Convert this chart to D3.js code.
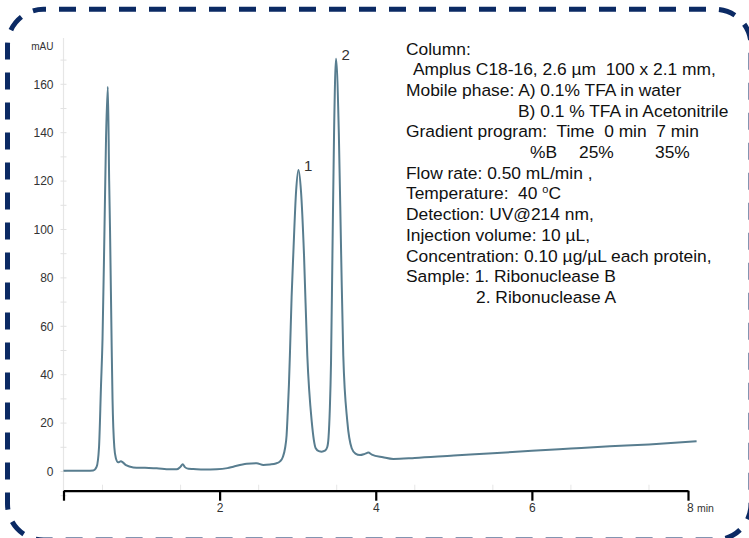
<!DOCTYPE html>
<html><head><meta charset="utf-8">
<script src="https://cdn.jsdelivr.net/npm/d3@7"></script>
<style>
html,body{margin:0;padding:0;background:#fff;}
svg{display:block;}
text{font-family:"Liberation Sans",Arial,sans-serif;}
</style></head>
<body><svg id="chart" width="749" height="538"></svg>
<script>
// ---- data ----
const times = [0.00,0.30,0.38,0.425,0.455,0.480,0.500,0.525,0.545,0.568,0.585,0.596,0.617,0.628,0.651,0.670,0.700,0.735,0.760,0.800,0.894,1.044,1.194,1.364,1.450,1.500,1.527,1.555,1.600,1.663,1.800,1.963,2.100,2.175,2.347,2.475,2.560,2.645,2.720,2.774,2.810,2.838,2.858,2.872,2.888,2.902,2.922,2.944,2.980,3.010,3.042,3.081,3.123,3.180,3.231,3.270,3.308,3.350,3.378,3.395,3.412,3.427,3.445,3.466,3.491,3.527,3.557,3.584,3.636,3.692,3.740,3.798,3.860,3.905,3.950,4.093,4.225,4.500,5.000,5.500,6.000,6.500,7.000,7.500,8.110];
const absorbance = [0.3,0.3,0.4,2.0,10,35,55,100,138,159,120,100,52,30,10,5.6,3.8,4.2,3.8,2.6,1.7,1.5,1.3,0.9,0.9,2.0,3.0,1.8,1.1,1.0,0.8,0.9,1.4,2.0,3.2,3.4,2.7,2.9,3.3,4.2,6.0,9.6,15,24,36,50,72,90,116,124.6,116,89.5,48,20.6,9.6,8.4,8.2,8.6,10,14,26,45,89.5,140,170.6,140,89.5,48,20.6,9.6,7.4,6.8,7.3,7.8,7.0,5.9,5.2,5.6,6.6,7.5,8.6,9.5,10.4,11.2,12.5];
const xTicks = [0,2,4,6,8];
const yTicks = [0,20,40,60,80,100,120,140,160];
const peakNames = ["1","2"];
const peakTimes = [3.010,3.491];
const peakHeights = [124.6,170.6];
const xUnit = "min";
const yUnit = "mAU";
const methodLines = [
  ["Column:"],
  ["Amplus C18-16, 2.6 µm  100 x 2.1 mm,"],
  ["Mobile phase: A) 0.1% TFA in water"],
  ["B) 0.1 % TFA in Acetonitrile"],
  ["Gradient program:  Time  0 min  7 min"],
  ["%B", "25%", "35%"],
  ["Flow rate: 0.50 mL/min ,"],
  ["Temperature:  40 ", "o", "C"],
  ["Detection: UV@214 nm,"],
  ["Injection volume: 10 µL,"],
  ["Concentration: 0.10 µg/µL each protein,"],
  ["Sample: 1. Ribonuclease B"],
  ["2. Ribonuclease A"]
];

// ---- layout ----
const svg = d3.select("#chart");
const x = d3.scaleLinear().domain([0,8]).range([63.5,688]);
const y = d3.scaleLinear().domain([0,160]).range([471.5,84.3]);
const axisY = 490.7;

// frame
(function(){
  const L=7.5,T=9.3,R=751,B=540,r=36;
  const p=d3.path();
  p.moveTo(L+r,T); p.lineTo(R-r,T); p.arcTo(R,T,R,T+r,r);
  p.lineTo(R,B-r); p.arcTo(R,B,R-r,B,r);
  p.lineTo(L+r,B); p.arcTo(L,B,L,B-r,r);
  p.lineTo(L,T+r); p.arcTo(L,T,L+r,T,r); p.closePath();
  svg.append("path").attr("d",p.toString()).attr("fill","none")
    .attr("stroke","#0b2a64").attr("stroke-width",5)
    .attr("stroke-dasharray","17 13").attr("stroke-dashoffset",14.5);
})();

// faint y axis
const gy = svg.append("g").attr("transform","translate(63.5,0)");
gy.append("line").attr("y1",38).attr("y2",axisY).attr("stroke","#e6e6e6").attr("stroke-width",1.2);
gy.selectAll("line.minor").data(d3.range(-10,171,10)).join("line").attr("class","minor")
  .attr("x1",-3).attr("x2",3).attr("y1",d=>y(d)).attr("y2",d=>y(d))
  .attr("stroke","#e2e2e2").attr("stroke-width",1);
svg.append("g").selectAll("text").data(yTicks).join("text")
  .attr("x",53.5).attr("y",d=>y(d)).attr("dy","0.35em").attr("text-anchor","end")
  .attr("font-size",12).attr("fill","#333").text(d=>d);
svg.append("text").attr("x",53.5).attr("y",46.7).attr("dy","0.35em").attr("text-anchor","end")
  .attr("font-size",10).attr("fill","#333").text(yUnit);

// x minor ticks (faint)
svg.append("g").selectAll("line").data(d3.range(0.5,8,1)).join("line")
  .attr("x1",d=>x(d)).attr("x2",d=>x(d)).attr("y1",axisY-6).attr("y2",axisY)
  .attr("stroke","#e6e6e6").attr("stroke-width",1);

// x axis
const gx = svg.append("g").attr("transform",`translate(0,${axisY})`)
  .call(d3.axisBottom(x).tickValues(xTicks).tickSize(10).tickSizeOuter(0)
    .tickFormat(d => (d===0||d===8) ? "" : d));
gx.select(".domain").attr("stroke","#000").attr("stroke-width",2.2);
gx.selectAll(".tick line").attr("stroke","#000").attr("stroke-width",2.2);
gx.selectAll(".tick text").attr("font-size",12).attr("fill","#333")
  .attr("font-family","Liberation Sans, Arial, sans-serif");
svg.append("text").attr("x",x(8)-1).attr("y",axisY+21.5).attr("font-size",12).attr("fill","#333").text("8");
svg.append("text").attr("x",x(8)+9).attr("y",axisY+21.5).attr("font-size",10.5).attr("fill","#333").text(xUnit);

// trace
const pts = times.map((t,i)=>[t,absorbance[i]]);
svg.append("path").datum(pts)
  .attr("d",d3.line().x(d=>x(d[0])).y(d=>y(d[1])).curve(d3.curveMonotoneX))
  .attr("fill","none").attr("stroke","#587d8f").attr("stroke-width",2)
  .attr("stroke-linejoin","round");

// peak labels
svg.append("g").selectAll("text").data(peakNames).join("text")
  .attr("x",(d,i)=>x(peakTimes[i])+5.5).attr("y",(d,i)=>y(peakHeights[i])+1.5)
  .attr("font-size",15).attr("fill","#333").text(d=>d);

// method text
const fs = 17.4, lh = 20.7, base0 = 54.5;
const segX = [
  [406],[413],[406],[518],[406],[530,579,655],[406],[406],[406],[406],[406],[406],[476]
];
const g = svg.append("g").attr("font-size",fs).attr("fill","#111");
methodLines.forEach((segs,i)=>{
  const yy = base0 + i*lh;
  if (i===7) {
    const t = g.append("text").attr("x",segX[i][0]).attr("y",yy).style("white-space","pre");
    t.append("tspan").text(segs[0]);
    t.append("tspan").attr("font-size",11).attr("dy",-6).text(segs[1]);
    t.append("tspan").attr("dy",6).text(segs[2]);
  } else {
    segs.forEach((s,j)=>{
      g.append("text").attr("x",segX[i][j]).attr("y",yy).style("white-space","pre").text(s);
    });
  }
});
</script></body></html>
